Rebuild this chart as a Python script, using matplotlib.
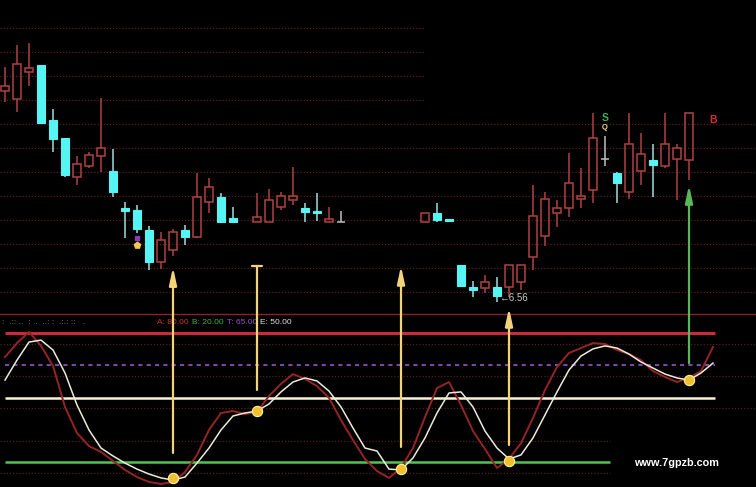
import matplotlib
matplotlib.use("Agg")
import matplotlib.pyplot as plt
from matplotlib.patches import Rectangle, ConnectionPatch

plt.rcParams['font.family'] = ['Liberation Sans', 'DejaVu Sans']

# ---------------- data ----------------
# candle data per bar index (None = bar not shown)
opens = [7.438, 7.405, 7.517, 7.546, 7.317, 7.242, 7.080, 7.125, 7.167, 7.105,
         6.950, 6.942, 6.859, 6.725, 6.775, 6.859, 6.829, 6.975, 6.996, 6.909,
         None, 6.892, 6.892, 6.954, 6.984, 6.950, 6.938, 6.892, 6.892, None,
         None, None, None, None, None, 6.892, 6.929, 6.904, 6.713, 6.621,
         6.617, 6.621, 6.621, 6.642, 6.746, 6.834, 6.929, 6.950, 6.988, 7.025,
         7.154, 7.096, 7.017, 7.105, 7.150, 7.125, 7.154, 7.150, None, None]
highs = [7.538, 7.630, 7.638, 7.546, 7.363, 7.242, 7.167, 7.184, 7.409, 7.196,
         6.975, 6.963, 6.875, 6.850, 6.863, 6.879, 7.096, 7.075, 7.013, 6.954,
         None, 7.013, 7.029, 7.017, 7.121, 6.971, 7.013, 6.954, 6.938, None,
         None, None, None, None, None, 6.929, 6.971, 6.904, 6.713, 6.646,
         6.671, 6.663, 6.713, 6.713, 7.046, 7.017, 6.984, 7.179, 7.117, 7.346,
         7.250, 7.100, 7.346, 7.263, 7.217, 7.346, 7.217, 7.346, None, None]
lows = [7.392, 7.350, 7.459, 7.300, 7.184, 7.080, 7.046, 7.117, 7.100, 6.996,
        6.825, 6.846, 6.692, 6.696, 6.750, 6.796, 6.825, 6.929, 6.888, 6.892,
        None, 6.892, 6.892, 6.942, 6.963, 6.892, 6.896, 6.892, 6.892, None,
        None, None, None, None, None, 6.892, 6.892, 6.892, 6.625, 6.579,
        6.596, 6.560, 6.579, 6.609, 6.692, 6.792, 6.871, 6.913, 6.950, 6.971,
        7.125, 6.971, 6.988, 7.046, 6.996, 7.117, 6.984, 7.067, None, None]
closes = [7.459, 7.550, 7.534, 7.305, 7.238, 7.088, 7.134, 7.171, 7.200, 7.017,
          6.938, 6.863, 6.725, 6.817, 6.850, 6.829, 6.996, 7.038, 6.892, 6.892,
          None, 6.913, 6.984, 7.000, 7.000, 6.934, 6.929, 6.904, 6.892, None,
          None, None, None, None, None, 6.929, 6.900, 6.896, 6.625, 6.609,
          6.642, 6.584, 6.713, 6.713, 6.917, 6.988, 6.950, 7.054, 7.000, 7.242,
          7.154, 7.054, 7.217, 7.175, 7.130, 7.217, 7.200, 7.346, None, None]

# oscillator lines (bottom panel)
red_line = [68.8, 75.3, 80.5, 74.0, 64.7, 45.6, 33.5, 27.4, 24.7, 20.5,
            16.3, 13.0, 10.7, 9.8, 10.7, 15.3, 23.3, 34.9, 42.8, 43.7,
            42.3, 43.3, 50.7, 56.3, 60.9, 58.6, 55.3, 49.8, 39.5, 30.2,
            21.4, 15.8, 12.6, 17.2, 26.5, 40.9, 54.4, 57.2, 46.5, 34.4,
            26.0, 17.2, 21.4, 28.8, 40.5, 53.5, 64.2, 70.7, 73.0, 75.3,
            74.9, 72.1, 70.2, 67.4, 62.3, 59.5, 57.2, 59.1, 62.3, 73.5]
white_line = [58.1, 67.4, 75.8, 76.7, 72.1, 61.4, 46.5, 34.9, 26.5, 22.8,
              19.5, 16.7, 14.4, 12.6, 11.6, 13.0, 19.5, 26.5, 34.9, 41.4,
              42.8, 43.7, 47.0, 52.6, 57.2, 59.1, 57.7, 53.0, 45.6, 35.8,
              26.5, 25.1, 16.7, 16.3, 21.9, 31.2, 42.8, 52.1, 52.6, 45.6,
              34.4, 26.5, 21.4, 23.3, 31.2, 41.9, 52.6, 62.8, 69.3, 72.6,
              74.0, 73.0, 70.2, 66.5, 63.7, 60.9, 59.1, 58.1, 61.4, 66.0]

level_names = ['A', 'B', 'T', 'E']
level_values = [80.0, 20.0, 65.0, 50.0]

# signals: bar index, dot value, arrow start (oscillator), arrow end (price)
signal_idx = [14, 21, 33, 42, 57]
signal_dot = [12.6, 43.7, 16.7, 20.5, 58.1]
signal_start = [24.2, 53.5, 27.0, 27.9, 66.0]
signal_end = [6.704, 6.709, 6.709, 6.534, 7.046]
signal_kind = ['arrow', 'cap', 'arrow', 'arrow', 'arrow_green']

price_grid = [6.6, 6.7, 6.8, 6.9, 7.0, 7.1, 7.2, 7.3, 7.4, 7.5, 7.6, 7.7]
osc_grid = [75, 60, 45, 30, 15]
low_label = 6.56

# ---------------- figure ----------------
W, H = 756, 487
fig = plt.figure(figsize=(W / 100, H / 100), dpi=100, facecolor='black')
split = 314
ax1 = fig.add_axes([0, 1 - split / H, 1, split / H], facecolor='black')
ax2 = fig.add_axes([0, 0, 1, (H - split) / H], facecolor='black')

xl = (-5 / 12, (W - 5) / 12)
for ax in (ax1, ax2):
    ax.set_xlim(*xl)
    ax.set_xticks([])
    ax.set_yticks([])
    for s in ax.spines.values():
        s.set_visible(False)
ax1.set_ylim(7.817 - split / 240, 7.817)
ax2.set_ylim(80 - (H - 333) / 2.15, 80 + (333 - split) / 2.15)
ax2.spines['top'].set_visible(True)
ax2.spines['top'].set_color('#8a2030')
ax2.spines['top'].set_linewidth(1.0)

grid_col = '#5a1c1c'
for g in price_grid:
    xmax = 425 / W if g >= 7.35 else 1.0
    ax1.axhline(g, xmin=0, xmax=xmax, color=grid_col, lw=0.9, ls=(0, (1, 1.5)), zorder=0)
for g in osc_grid:
    xmax = 610 / W if g < 40 else 1.0
    ax2.axhline(g, xmin=0, xmax=xmax, color=grid_col, lw=0.9, ls=(0, (1, 1.5)), zorder=0)

# ---------------- candles ----------------
RED = '#b04242'
CYAN = '#55f5f5'
GRAY = '#c0c0c0'
w = 0.72
for i, (o, h, l, c) in enumerate(zip(opens, highs, lows, closes)):
    if o is None:
        continue
    if c > o:
        ax1.vlines(i, c, h, color=RED, lw=1.1, zorder=2)
        ax1.vlines(i, l, o, color=RED, lw=1.1, zorder=2)
        ax1.add_patch(Rectangle((i - w / 2, o), w, c - o, fill=False,
                                ec=RED, lw=1.1, zorder=3))
    elif c < o:
        ax1.vlines(i, l, h, color='#9fdede', lw=1.1, zorder=2)
        ax1.add_patch(Rectangle((i - w / 2, c), w, o - c, fc=CYAN,
                                ec=CYAN, lw=0.8, zorder=3))
    else:
        ax1.vlines(i, l, h, color=GRAY, lw=1.1, zorder=2)
        ax1.hlines(o, i - w / 2, i + w / 2, color=GRAY, lw=1.1, zorder=3)

ax1.annotate('\u21906.56', xy=(41.2, low_label), xytext=(0, 3),
             textcoords='offset points', color='#c8c8c8', fontsize=7,
             ha='left', va='center', zorder=5)

# small markers in the price panel
ax1.scatter([11], [6.825], marker='s', s=8, color='#8a3cb8', zorder=5)
ax1.scatter([11], [6.796], marker='p', s=22, color='#f0c850', zorder=5)
ax1.text(50, 7.325, 'S', color='#3fae55', fontsize=7.5, fontweight='bold',
         ha='center', va='center')
ax1.text(50, 7.284, 'Q', color='#f0d890', fontsize=5.5, fontweight='bold',
         ha='center', va='center')
ax1.text(59, 7.317, 'B', color='#d83030', fontsize=7.5, fontweight='bold',
         ha='center', va='center')

# ---------------- oscillator panel ----------------
xs = list(range(len(red_line)))
lv = dict(zip(level_names, level_values))
ax2.hlines(lv['A'], 0, 59.2, color='#cc2a3a', lw=2.2, zorder=2)
ax2.hlines(lv['T'], 0, 59.2, color='#9c54cc', lw=1.2, ls=(0, (2.5, 2.5)), zorder=2)
ax2.hlines(lv['E'], 0, 59.2, color='#f8f2d8', lw=1.8, zorder=2)
ax2.hlines(lv['B'], 0, 50.4, color='#52c452', lw=1.8, zorder=2)

ax2.plot(xs, red_line, color='#962424', lw=1.4, zorder=3)
ax2.plot(xs, white_line, color='#ecead8', lw=1.1, zorder=4)

ax2.scatter(signal_idx, signal_dot, s=55, color='#f0c030', edgecolors='#fff2a0',
            linewidths=0.8, zorder=6)

# header text
label_cols = {'A': '#c83030', 'B': '#40b048', 'T': '#a448c4', 'E': '#e4e4e4'}
label_x = {'A': 157, 'B': 192, 'T': 227, 'E': 260}
for n in level_names:
    fig.text(label_x[n] / W, 1 - 322 / H, f'{n}: {lv[n]:.2f}', color=label_cols[n],
             fontsize=6.0, ha='left', va='center')
fig.text(2 / W, 1 - 322 / H, ':  .:: ..  :  .  ..: :  .:.: ::   .', color='#8a8a8a',
         fontsize=6, ha='left', va='center')

# ---------------- signal arrows ----------------
for i, v0, p1, kind in zip(signal_idx, signal_start, signal_end, signal_kind):
    col = '#58b858' if kind == 'arrow_green' else '#f4d27a'
    if kind == 'cap':
        style = '-[,widthB=0.45,lengthB=0.0'
    else:
        style = '-|>,head_length=1.3,head_width=0.28'
    cp = ConnectionPatch(xyA=(i, v0), coordsA=ax2.transData,
                         xyB=(i, p1), coordsB=ax1.transData,
                         arrowstyle=style, mutation_scale=8, color=col,
                         lw=1.6, shrinkA=0, shrinkB=0, zorder=10)
    fig.add_artist(cp)

fig.text(676 / W, 1 - 463 / H, 'www.7gpzb.com', color='white', fontsize=7.8,
         fontweight='bold', ha='center', va='center')

fig.savefig('out.png', dpi=100, facecolor='black')
